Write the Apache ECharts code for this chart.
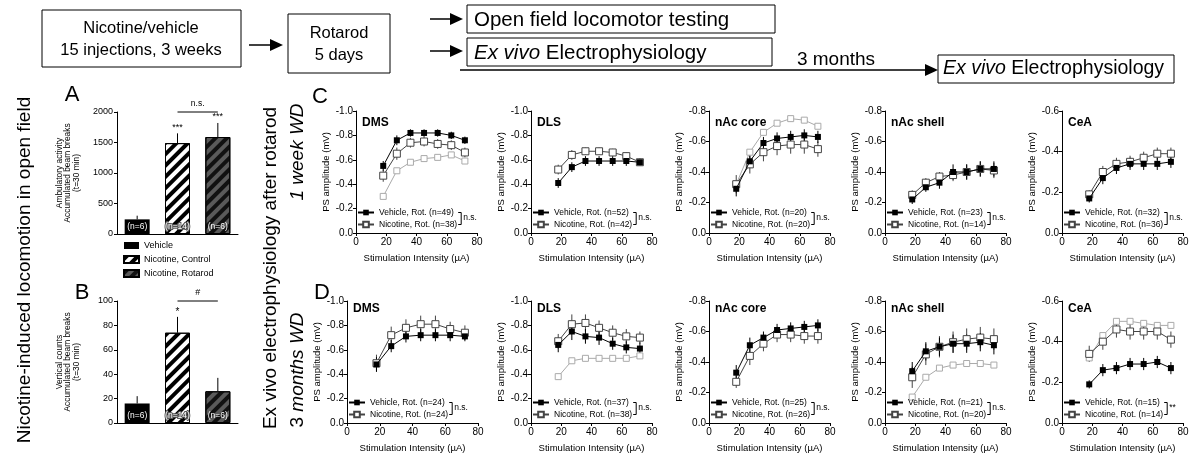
<!DOCTYPE html>
<html>
<head>
<meta charset="utf-8">
<title>Nicotine / rotarod electrophysiology</title>
<script src="https://cdn.jsdelivr.net/npm/echarts@6.0.0/dist/echarts.min.js"></script>
<style>
  html, body { margin: 0; padding: 0; background: #fff; }
  #main { width: 1192px; height: 455px; }
</style>
</head>
<body>
<div id="main"></div>
<script>
var FONT = 'Liberation Sans, Arial, sans-serif';

// stimulation intensities (uA)
var xStim = [18, 27, 36, 45, 54, 63, 72];

// A / B open field
var barGroups = ['Vehicle', 'Nicotine, Control', 'Nicotine, Rotarod'];
var barN = ['(n=6)', '(n=14)', '(n=6)'];
var ambulatory = [240, 1490, 1590];
var ambulatoryErr = [60, 160, 230];
var vertical = [16, 74, 26];
var verticalErr = [6, 13, 11];

// C: 1 week WD
var cDmsVeh = [-0.55, -0.76, -0.82, -0.82, -0.82, -0.80, -0.76];
var cDmsVehErr = [0.04, 0.04, 0.03, 0.03, 0.03, 0.03, 0.03];
var cDmsNic = [-0.47, -0.65, -0.74, -0.75, -0.73, -0.72, -0.66];
var cDmsNicErr = [0.05, 0.05, 0.04, 0.04, 0.04, 0.04, 0.04];
var cDmsCtl = [-0.30, -0.51, -0.58, -0.61, -0.62, -0.64, -0.59];

var cDlsVeh = [-0.41, -0.54, -0.59, -0.59, -0.59, -0.59, -0.58];
var cDlsVehErr = [0.04, 0.04, 0.04, 0.04, 0.04, 0.04, 0.03];
var cDlsNic = [-0.52, -0.64, -0.67, -0.67, -0.66, -0.63, -0.58];
var cDlsNicErr = [0.04, 0.04, 0.03, 0.03, 0.03, 0.03, 0.03];

var cCoreVeh = [-0.29, -0.47, -0.59, -0.62, -0.63, -0.64, -0.63];
var cCoreVehErr = [0.05, 0.04, 0.04, 0.04, 0.04, 0.04, 0.04];
var cCoreNic = [-0.32, -0.45, -0.53, -0.57, -0.58, -0.58, -0.55];
var cCoreNicErr = [0.06, 0.06, 0.06, 0.06, 0.06, 0.06, 0.05];
var cCoreCtl = [-0.32, -0.53, -0.66, -0.72, -0.75, -0.74, -0.70];

var cShellVeh = [-0.22, -0.30, -0.33, -0.40, -0.40, -0.42, -0.42];
var cShellVehErr = [0.03, 0.03, 0.04, 0.05, 0.05, 0.05, 0.05];
var cShellNic = [-0.25, -0.33, -0.37, -0.38, -0.40, -0.42, -0.41];
var cShellNicErr = [0.03, 0.03, 0.03, 0.04, 0.05, 0.05, 0.05];

var cCeaVeh = [-0.17, -0.27, -0.32, -0.34, -0.34, -0.34, -0.35];
var cCeaVehErr = [0.02, 0.03, 0.03, 0.03, 0.03, 0.03, 0.03];
var cCeaNic = [-0.19, -0.30, -0.34, -0.35, -0.37, -0.39, -0.39];
var cCeaNicErr = [0.02, 0.03, 0.03, 0.03, 0.03, 0.03, 0.03];

// D: 3 months WD
var dDmsVeh = [-0.48, -0.63, -0.71, -0.72, -0.72, -0.72, -0.71];
var dDmsVehErr = [0.06, 0.05, 0.05, 0.05, 0.05, 0.05, 0.04];
var dDmsNic = [-0.49, -0.72, -0.78, -0.81, -0.81, -0.77, -0.74];
var dDmsNicErr = [0.07, 0.07, 0.07, 0.07, 0.07, 0.06, 0.06];

var dDlsVeh = [-0.64, -0.75, -0.71, -0.70, -0.65, -0.62, -0.61];
var dDlsVehErr = [0.06, 0.07, 0.06, 0.06, 0.05, 0.05, 0.05];
var dDlsNic = [-0.67, -0.81, -0.82, -0.78, -0.74, -0.71, -0.70];
var dDlsNicErr = [0.06, 0.08, 0.07, 0.06, 0.06, 0.06, 0.05];
var dDlsCtl = [-0.38, -0.51, -0.53, -0.53, -0.53, -0.53, -0.55];

var dCoreVeh = [-0.33, -0.51, -0.56, -0.61, -0.62, -0.63, -0.64];
var dCoreVehErr = [0.05, 0.05, 0.04, 0.04, 0.04, 0.04, 0.04];
var dCoreNic = [-0.27, -0.44, -0.52, -0.58, -0.58, -0.57, -0.57];
var dCoreNicErr = [0.04, 0.06, 0.05, 0.05, 0.05, 0.05, 0.05];

var dShellVeh = [-0.34, -0.47, -0.50, -0.52, -0.52, -0.53, -0.51];
var dShellVehErr = [0.06, 0.06, 0.06, 0.06, 0.06, 0.06, 0.06];
var dShellNic = [-0.30, -0.45, -0.50, -0.53, -0.55, -0.56, -0.55];
var dShellNicErr = [0.07, 0.07, 0.07, 0.07, 0.07, 0.07, 0.07];
var dShellCtl = [-0.17, -0.30, -0.36, -0.38, -0.39, -0.39, -0.38];

var dCeaVeh = [-0.19, -0.26, -0.27, -0.29, -0.29, -0.30, -0.27];
var dCeaVehErr = [0.02, 0.03, 0.03, 0.03, 0.03, 0.03, 0.03];
var dCeaNic = [-0.34, -0.40, -0.46, -0.45, -0.45, -0.45, -0.41];
var dCeaNicErr = [0.04, 0.04, 0.04, 0.04, 0.04, 0.04, 0.04];
var dCeaCtl = [-0.32, -0.43, -0.50, -0.50, -0.49, -0.48, -0.48];

var panels = [
  {title: 'DMS', left: 356, width: 121, top: 111, yMax: 1.0, veh: cDmsVeh, vehErr: cDmsVehErr, nic: cDmsNic, nicErr: cDmsNicErr, ctl: cDmsCtl, n: [49, 38], sig: 'n.s.'},
  {title: 'DLS', left: 531, width: 121, top: 111, yMax: 1.0, veh: cDlsVeh, vehErr: cDlsVehErr, nic: cDlsNic, nicErr: cDlsNicErr, n: [52, 42], sig: 'n.s.'},
  {title: 'nAc core', left: 709, width: 121, top: 111, yMax: 0.8, veh: cCoreVeh, vehErr: cCoreVehErr, nic: cCoreNic, nicErr: cCoreNicErr, ctl: cCoreCtl, n: [20, 20], sig: 'n.s.'},
  {title: 'nAc shell', left: 885, width: 121, top: 111, yMax: 0.8, veh: cShellVeh, vehErr: cShellVehErr, nic: cShellNic, nicErr: cShellNicErr, n: [23, 14], sig: 'n.s.'},
  {title: 'CeA', left: 1062, width: 121, top: 111, yMax: 0.6, veh: cCeaVeh, vehErr: cCeaVehErr, nic: cCeaNic, nicErr: cCeaNicErr, n: [32, 36], sig: 'n.s.'},
  {title: 'DMS', left: 347, width: 131, top: 301, yMax: 1.0, veh: dDmsVeh, vehErr: dDmsVehErr, nic: dDmsNic, nicErr: dDmsNicErr, n: [24, 24], sig: 'n.s.'},
  {title: 'DLS', left: 531, width: 121, top: 301, yMax: 1.0, veh: dDlsVeh, vehErr: dDlsVehErr, nic: dDlsNic, nicErr: dDlsNicErr, ctl: dDlsCtl, n: [37, 38], sig: 'n.s.'},
  {title: 'nAc core', left: 709, width: 121, top: 301, yMax: 0.8, veh: dCoreVeh, vehErr: dCoreVehErr, nic: dCoreNic, nicErr: dCoreNicErr, n: [25, 26], sig: 'n.s.'},
  {title: 'nAc shell', left: 885, width: 121, top: 301, yMax: 0.8, veh: dShellVeh, vehErr: dShellVehErr, nic: dShellNic, nicErr: dShellNicErr, ctl: dShellCtl, n: [21, 20], sig: 'n.s.'},
  {title: 'CeA', left: 1062, width: 121, top: 301, yMax: 0.6, veh: dCeaVeh, vehErr: dCeaVehErr, nic: dCeaNic, nicErr: dCeaNicErr, ctl: dCeaCtl, n: [15, 14], sig: '**'}
];

var PH = 122; // plot height
var measureCtx = document.createElement('canvas').getContext('2d');
function textWidth(s, size) {
  measureCtx.font = size + 'px ' + FONT;
  return measureCtx.measureText(s).width;
}

var grids = [], xAxes = [], yAxes = [], series = [], legends = [], graphics = [];
var axisBlack = {lineStyle: {color: '#000', width: 1}};

function pairs(vals) {
  return xStim.map(function (x, i) { return [x, vals[i]]; });
}

function errorBars(gi, vals, errs, color) {
  return {
    type: 'custom', xAxisIndex: gi, yAxisIndex: gi, z: 1, silent: true,
    data: xStim.map(function (x, i) { return [x, vals[i], errs[i]]; }),
    renderItem: function (params, api) {
      var x = api.value(0), y = api.value(1), e = api.value(2);
      var p1 = api.coord([x, y - e]), p2 = api.coord([x, y + e]);
      return {type: 'line', shape: {x1: p1[0], y1: p1[1], x2: p2[0], y2: p2[1]},
        style: {stroke: color, lineWidth: 1}};
    }
  };
}

// ---- bar charts A and B
var hatch = function (c) {
  return {symbol: 'rect', symbolSize: 1, dashArrayX: [1, 0], dashArrayY: [4, 4], rotation: -Math.PI / 4, color: c};
};
var barStyles = [
  {color: '#000'},
  {color: '#fff', borderColor: '#000', borderWidth: 1, decal: hatch('#000')},
  {color: '#5a5a5a', borderColor: '#000', borderWidth: 1, decal: hatch('#111')}
];

function barChart(top, max, interval, yName, vals, errs) {
  var gi = grids.length;
  grids.push({left: 117, top: top, width: 121, height: PH});
  xAxes.push({gridIndex: gi, type: 'category', data: barGroups,
    axisLine: axisBlack, axisTick: {show: false}, axisLabel: {show: false}});
  yAxes.push({gridIndex: gi, type: 'value', min: 0, max: max, interval: interval,
    axisLine: {show: true, lineStyle: {color: '#000'}},
    axisTick: {show: true, length: 3, lineStyle: {color: '#000'}},
    splitLine: {show: false},
    axisLabel: {fontSize: 9, fontFamily: FONT, color: '#000', margin: 4,
      formatter: function (v) { return String(v); }},
    name: yName, nameLocation: 'middle', nameGap: 36,
    nameTextStyle: {fontSize: 8.4, lineHeight: 8.6, fontFamily: FONT, color: '#000'}});
  barGroups.forEach(function (g, k) {
    series.push({
      name: g, type: 'bar', xAxisIndex: gi, yAxisIndex: gi,
      barWidth: 25, barGap: '-100%',
      data: vals.map(function (v, i) { return i === k ? v : '-'; }),
      itemStyle: barStyles[k],
      label: {show: true, position: 'insideBottom', distance: 3, formatter: barN[k],
        fontSize: 8.5, fontFamily: FONT, color: '#fff',
        textBorderColor: k === 1 ? '#555' : 'transparent', textBorderWidth: k === 1 ? 2 : 0}
    });
  });
  series.push({
    type: 'custom', xAxisIndex: gi, yAxisIndex: gi, z: 1, silent: true,
    data: vals.map(function (v, i) { return [i, v, errs[i]]; }),
    renderItem: function (params, api) {
      var a = api.coord([api.value(0), api.value(1) + api.value(2)]);
      var b = api.coord([api.value(0), api.value(1)]);
      return {type: 'line', shape: {x1: a[0], y1: a[1], x2: b[0], y2: b[1]},
        style: {stroke: '#000', lineWidth: 1}};
    }
  });
}

barChart(112, 2000, 500, 'Ambulatory activity\nAccumulated beam breaks\n(t=30 min)', ambulatory, ambulatoryErr);
barChart(301, 100, 20, 'Vertical counts\nAccumulated beam breaks\n(t=30 min)', vertical, verticalErr);

legends.push({data: barGroups, orient: 'vertical', left: 123, top: 240, padding: 0,
  icon: 'rect', itemWidth: 15, itemHeight: 7, itemGap: 3, selectedMode: false,
  textStyle: {fontSize: 9, lineHeight: 11, fontFamily: FONT, color: '#000'}});

// ---- line panels C and D
var LEG_ROW = 11;
panels.forEach(function (p) {
  var gi = grids.length;
  grids.push({left: p.left, top: p.top, width: p.width, height: PH});
  xAxes.push({gridIndex: gi, type: 'value', min: 0, max: 80, interval: 20,
    axisLine: {show: true, lineStyle: {color: '#000'}},
    axisTick: {show: true, length: 3, lineStyle: {color: '#000'}},
    splitLine: {show: false},
    axisLabel: {fontSize: 10, fontFamily: FONT, color: '#000', margin: 4},
    name: 'Stimulation Intensity (\u00b5A)', nameLocation: 'middle', nameGap: 20,
    nameTextStyle: {fontSize: 9.5, fontFamily: FONT, color: '#000'}});
  yAxes.push({gridIndex: gi, type: 'value', inverse: true, min: -p.yMax, max: 0, interval: 0.2,
    axisLine: {show: true, lineStyle: {color: '#000'}},
    axisTick: {show: true, length: 3, lineStyle: {color: '#000'}},
    splitLine: {show: false},
    axisLabel: {fontSize: 10, fontFamily: FONT, color: '#000', margin: 3,
      formatter: function (v) { return v.toFixed(1); }},
    name: 'PS amplitude (mV)', nameLocation: 'middle', nameGap: 25,
    nameTextStyle: {fontSize: 9.5, fontFamily: FONT, color: '#000'}});

  var vehName = 'Vehicle, Rot. (n=' + p.n[0] + ')';
  var nicName = 'Nicotine, Rot. (n=' + p.n[1] + ')';

  if (p.ctl) {
    series.push({name: 'ctl', type: 'line', xAxisIndex: gi, yAxisIndex: gi, data: pairs(p.ctl),
      symbol: 'rect', symbolSize: 6, z: 2, silent: true,
      itemStyle: {color: '#fff', borderColor: '#aaa', borderWidth: 1},
      lineStyle: {color: '#aaa', width: 1}});
  }
  series.push(errorBars(gi, p.nic, p.nicErr, '#444'));
  series.push({name: nicName, type: 'line', xAxisIndex: gi, yAxisIndex: gi, data: pairs(p.nic),
    symbol: 'rect', symbolSize: 7, z: 3, silent: true,
    itemStyle: {color: '#fff', borderColor: '#444', borderWidth: 1},
    lineStyle: {color: '#444', width: 1}});
  series.push(errorBars(gi, p.veh, p.vehErr, '#000'));
  series.push({name: vehName, type: 'line', xAxisIndex: gi, yAxisIndex: gi, data: pairs(p.veh),
    symbol: 'rect', symbolSize: 6, z: 4, silent: true,
    itemStyle: {color: '#000'},
    lineStyle: {color: '#000', width: 1}});

  var legTop = p.top + 96;
  legends.push({data: [vehName, nicName], orient: 'vertical', left: p.left + 1, top: legTop,
    padding: 0, itemWidth: 16, itemHeight: 7, itemGap: 1, selectedMode: false,
    textStyle: {fontSize: 8.5, lineHeight: LEG_ROW, fontFamily: FONT, color: '#000'}});

  // bracket + significance
  var tw = Math.max(textWidth(vehName, 8.5), textWidth(nicName, 8.5));
  var bx = p.left + 1 + 16 + 5 + tw + 2;
  var y1 = legTop + LEG_ROW / 2, y2 = y1 + LEG_ROW + 1;
  graphics.push({type: 'polyline', shape: {points: [[bx, y1], [bx + 3, y1], [bx + 3, y2], [bx, y2]]},
    style: {stroke: '#000', lineWidth: 1, fill: null}});
  graphics.push({type: 'text', x: bx + 5, y: (y1 + y2) / 2 - 1,
    style: {text: p.sig, fontSize: 8.5, fontFamily: FONT, fill: '#000', align: 'left', verticalAlign: 'middle'}});
  // region title
  graphics.push({type: 'text', x: p.left + 6, y: p.top + (p.top < 200 ? 12 : 8),
    style: {text: p.title, fontSize: 12, fontWeight: 'bold', fontFamily: FONT, fill: '#000', align: 'left', verticalAlign: 'middle'}});
});

// ---- flow diagram and side titles
function box(x, y, w, h) {
  return {type: 'rect', shape: {x: x, y: y, width: w, height: h},
    style: {fill: '#fff', stroke: '#000', lineWidth: 1}};
}
function txt(x, y, s, size, align, extra) {
  var st = {text: s, fontSize: size, fontFamily: FONT, fill: '#000', align: align || 'center', verticalAlign: 'middle'};
  if (extra) { for (var k in extra) st[k] = extra[k]; }
  return {type: 'text', x: x, y: y, style: st};
}
function arrow(x1, x2, y) {
  return [
    {type: 'line', shape: {x1: x1, y1: y, x2: x2 - 10, y2: y}, style: {stroke: '#000', lineWidth: 1.5}},
    {type: 'polygon', shape: {points: [[x2 - 13, y - 6], [x2, y], [x2 - 13, y + 6]]}, style: {fill: '#000'}}
  ];
}
function italicRich(size) {
  return {i: {fontStyle: 'italic', fontSize: size, fontFamily: FONT, fill: '#000'}};
}

graphics.push(box(42, 10, 199, 57));
graphics.push(txt(141, 28, 'Nicotine/vehicle', 16.5));
graphics.push(txt(141, 50, '15 injections, 3 weeks', 16.5));
graphics = graphics.concat(arrow(249, 283, 45));
graphics.push(box(288, 14, 102, 59));
graphics.push(txt(339, 33, 'Rotarod', 16.5));
graphics.push(txt(339, 55, '5 days', 16.5));
graphics = graphics.concat(arrow(430, 463, 19));
graphics = graphics.concat(arrow(430, 463, 51));
graphics.push(box(467, 5, 308, 28));
graphics.push(txt(474, 20, 'Open field locomotor testing', 20.5, 'left'));
graphics.push(box(467, 38, 305, 28));
graphics.push(txt(474, 53, '{i|Ex vivo} Electrophysiology', 20.5, 'left', {rich: italicRich(20.5)}));
graphics = graphics.concat(arrow(460, 938, 70));
graphics.push(txt(836, 60, '3 months', 19));
graphics.push(box(938, 55, 236, 28));
graphics.push(txt(943, 69, '{i|Ex vivo} Electrophysiology', 19.5, 'left', {rich: italicRich(19.5)}));

function vtxt(x, y, s, size, extra) {
  var t = txt(x, y, s, size, 'center', extra);
  t.rotation = Math.PI / 2;
  return t;
}
graphics.push(vtxt(25, 270, 'Nicotine-induced locomotion in open field', 19));
graphics.push(vtxt(271, 268, 'Ex vivo electrophysiology after rotarod', 19));
graphics.push(vtxt(298, 152, '1 week WD', 19, {fontStyle: 'italic'}));
graphics.push(vtxt(298, 370, '3 {i|months WD}', 19, {rich: italicRich(19)}));

graphics.push(txt(72, 95, 'A', 22));
graphics.push(txt(82, 293, 'B', 22));
graphics.push(txt(320, 97, 'C', 22));
graphics.push(txt(322, 293, 'D', 22));

var chart = echarts.init(document.getElementById('main'));
chart.setOption({
  animation: false,
  backgroundColor: '#fff',
  grid: grids,
  xAxis: xAxes,
  yAxis: yAxes,
  legend: legends,
  series: series
});

// significance marks over the bars, placed from the data
function px(gi, cat, val) { return chart.convertToPixel({gridIndex: gi}, [cat, val]); }
[1, 2].forEach(function (i) {
  var p = px(0, i, ambulatory[i] + ambulatoryErr[i]);
  graphics.push(txt(p[0], p[1] - 6, '***', 9));
});
var nsA = px(0, 1, 2000), nsB = px(0, 2, 2000);
graphics.push({type: 'line', shape: {x1: nsA[0], y1: nsA[1], x2: nsB[0], y2: nsB[1]}, style: {stroke: '#000', lineWidth: 1}});
graphics.push(txt((nsA[0] + nsB[0]) / 2, nsA[1] - 8, 'n.s.', 8.5));
var starB = px(1, 1, vertical[1] + verticalErr[1]);
graphics.push(txt(starB[0], starB[1] - 5, '*', 10));
var hA = px(1, 1, 100), hB = px(1, 2, 100);
graphics.push({type: 'line', shape: {x1: hA[0], y1: hA[1], x2: hB[0], y2: hB[1]}, style: {stroke: '#000', lineWidth: 1}});
graphics.push(txt((hA[0] + hB[0]) / 2, hA[1] - 8, '#', 9));

chart.setOption({graphic: graphics});
</script>
</body>
</html>
